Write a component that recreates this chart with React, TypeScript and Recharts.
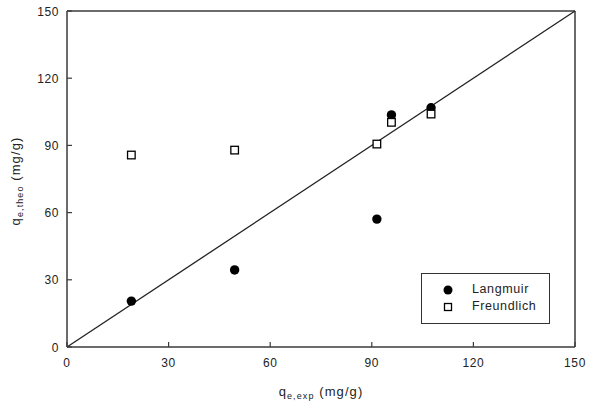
import React from 'react';
import {
  ScatterChart,
  Scatter,
  XAxis,
  YAxis,
  ReferenceLine,
} from 'recharts';

document.body.style.margin = '0';

// measured vs. model-predicted adsorption capacity
const qeExp = [19, 49.5, 91.5, 95.8, 107.5];
const langmuirTheo = [20.5, 34.4, 57.1, 103.6, 106.8];
const freundlichTheo = [85.7, 87.9, 90.6, 100.3, 104.0];
const axisTicks = [0, 30, 60, 90, 120, 150];

const langmuirData = qeExp.map((x, i) => ({ x, y: langmuirTheo[i] }));
const freundlichData = qeExp.map((x, i) => ({ x, y: freundlichTheo[i] }));

const FONT = '"Liberation Sans", Arial, sans-serif';
const AXIS_COLOR = '#3a3a3a';
const TEXT_COLOR = '#222';

const Dot = (props: any) => {
  const { cx, cy } = props;
  return <circle cx={cx} cy={cy} r={4.7} fill="#000" />;
};

const OpenSquare = (props: any) => {
  const { cx, cy } = props;
  return (
    <rect
      x={cx - 3.8}
      y={cy - 3.8}
      width={7.6}
      height={7.6}
      fill="#fff"
      stroke="#000"
      strokeWidth={1.3}
    />
  );
};

// ticks point into the plot area
const XTick = (props: any) => {
  const { x, y, payload } = props;
  return (
    <g>
      <line x1={x} x2={x} y1={y} y2={y - 5} stroke={AXIS_COLOR} strokeWidth={1.2} />
      <text
        x={x}
        y={y + 20}
        textAnchor="middle"
        fontSize={12}
        letterSpacing={0.6}
        fontFamily={FONT}
        fill={TEXT_COLOR}
      >
        {payload.value}
      </text>
    </g>
  );
};

const YTick = (props: any) => {
  const { x, y, payload } = props;
  return (
    <g>
      <line x1={x} x2={x + 5} y1={y} y2={y} stroke={AXIS_COLOR} strokeWidth={1.2} />
      <text
        x={x - 8}
        y={y + 4.5}
        textAnchor="end"
        fontSize={12}
        letterSpacing={0.6}
        fontFamily={FONT}
        fill={TEXT_COLOR}
      >
        {payload.value}
      </text>
    </g>
  );
};

const XLabel = () => (
  <text
    x={321}
    y={396}
    textAnchor="middle"
    fontSize={13}
    letterSpacing={1.1}
    fontFamily={FONT}
    fill={TEXT_COLOR}
  >
    <tspan>q</tspan>
    <tspan fontSize={9} dy={3}>e,exp</tspan>
    <tspan dy={-3}> (mg/g)</tspan>
  </text>
);

const YLabel = () => (
  <text
    x={0}
    y={0}
    transform="translate(19.5, 181) rotate(-90)"
    textAnchor="middle"
    fontSize={13}
    letterSpacing={1.1}
    fontFamily={FONT}
    fill={TEXT_COLOR}
  >
    <tspan>q</tspan>
    <tspan fontSize={9} dy={3}>e,theo</tspan>
    <tspan dy={-3}> (mg/g)</tspan>
  </text>
);

const LegendBox = () => (
  <div
    style={{
      position: 'absolute',
      left: 421,
      top: 273,
      border: '1.5px solid #333',
      width: 129,
      height: 51,
      boxSizing: 'border-box',
      fontFamily: FONT,
      fontSize: 12.5,
      letterSpacing: 0.6,
      color: TEXT_COLOR,
      padding: '7px 0 0 21px',
      lineHeight: '17px',
      background: '#fff',
    }}
  >
    <div style={{ display: 'flex', alignItems: 'center' }}>
      <svg width={10} height={10} style={{ marginRight: 19 }}>
        <circle cx={5} cy={5} r={4.5} fill="#000" />
      </svg>
      Langmuir
    </div>
    <div style={{ display: 'flex', alignItems: 'center' }}>
      <svg width={10} height={10} style={{ marginRight: 19 }}>
        <rect x={1.5} y={1.5} width={7} height={7} fill="#fff" stroke="#000" strokeWidth={1.3} />
      </svg>
      Freundlich
    </div>
  </div>
);

export default function App() {
  return (
    <div style={{ position: 'relative', width: 591, height: 403, background: '#fff' }}>
      <ScatterChart
        width={591}
        height={403}
        margin={{ top: 11, right: 16, bottom: 16, left: 17 }}
      >
        <XAxis
          type="number"
          dataKey="x"
          domain={[0, 150]}
          ticks={axisTicks}
          height={40}
          tickSize={0}
          tickMargin={0}
          tick={<XTick />}
          axisLine={{ stroke: AXIS_COLOR, strokeWidth: 1.5 }}
          tickLine={false}
          label={<XLabel />}
        />
        <YAxis
          type="number"
          dataKey="y"
          domain={[0, 150]}
          ticks={axisTicks}
          width={50}
          tickSize={0}
          tickMargin={0}
          tick={<YTick />}
          axisLine={{ stroke: AXIS_COLOR, strokeWidth: 1.5 }}
          tickLine={false}
          label={<YLabel />}
        />
        <ReferenceLine y={150} stroke={AXIS_COLOR} strokeWidth={1.5} />
        <ReferenceLine x={150} stroke={AXIS_COLOR} strokeWidth={1.5} />
        <ReferenceLine
          segment={[
            { x: 0, y: 0 },
            { x: 150, y: 150 },
          ]}
          stroke="#222"
          strokeWidth={1.3}
        />
        <Scatter
          name="Langmuir"
          data={langmuirData}
          shape={<Dot />}
          isAnimationActive={false}
        />
        <Scatter
          name="Freundlich"
          data={freundlichData}
          shape={<OpenSquare />}
          isAnimationActive={false}
        />
      </ScatterChart>
      <LegendBox />
    </div>
  );
}
